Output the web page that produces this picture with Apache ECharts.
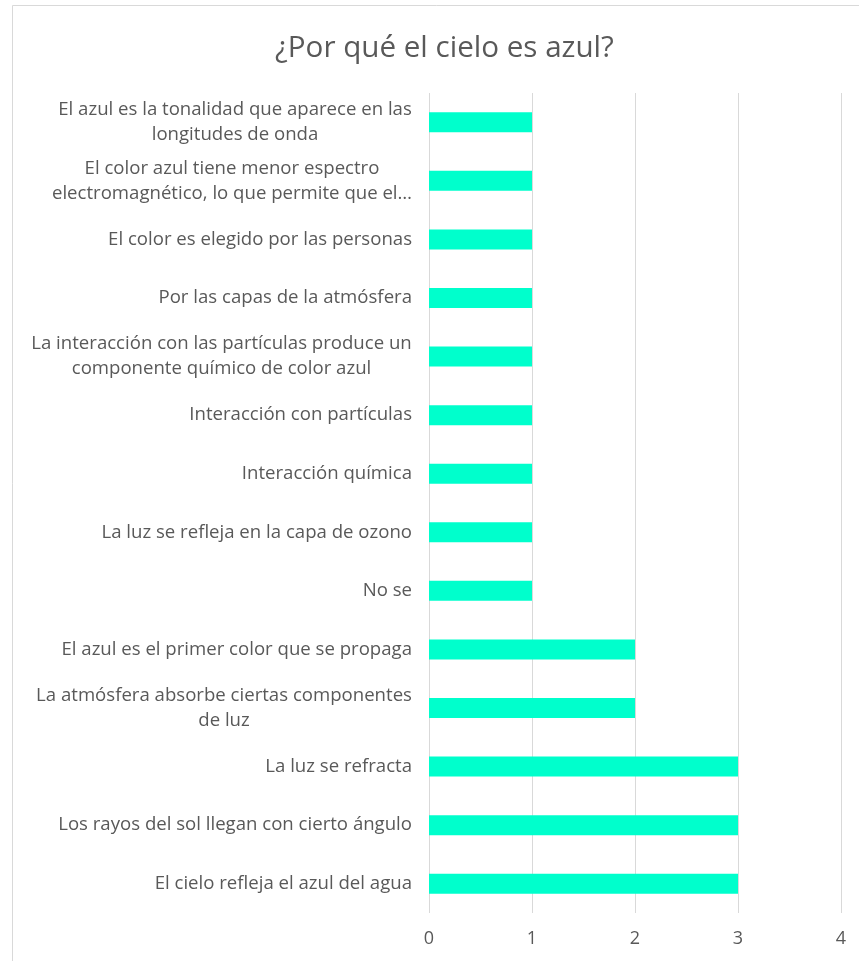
<!DOCTYPE html>
<html>
<head>
<meta charset="utf-8">
<script src="https://cdn.jsdelivr.net/npm/echarts@6/dist/echarts.min.js"></script>
<style>html,body{margin:0;padding:0;background:#fff;}#c{width:859px;height:961px;}</style>
</head>
<body>
<div id="c"></div>
<script>
const titleText = '¿Por qué el cielo es azul?';
const categories = [
  'El cielo refleja el azul del agua',
  'Los rayos del sol llegan con cierto ángulo',
  'La luz se refracta',
  'La atmósfera absorbe ciertas componentes\nde luz',
  'El azul es el primer color que se propaga',
  'No se',
  'La luz se refleja en la capa de ozono',
  'Interacción química',
  'Interacción con partículas',
  'La interacción con las partículas produce un\ncomponente químico de color azul',
  'Por las capas de la atmósfera',
  'El color es elegido por las personas',
  'El color azul tiene menor espectro\nelectromagnético, lo que permite que el…',
  'El azul es la tonalidad que aparece en las\nlongitudes de onda'
];
const values = [3, 3, 3, 2, 2, 1, 1, 1, 1, 1, 1, 1, 1, 1];
const xTicks = [0, 1, 2, 3, 4];

const FONT = 'Open Sans';
const LABEL_SIZE = 18.6;
const ctx = document.createElement('canvas').getContext('2d');
ctx.font = LABEL_SIZE + 'px "' + FONT + '"';
function blockWidth(s) {
  return Math.max.apply(null, s.split('\n').map(l => ctx.measureText(l).width));
}
// multi-line labels: lines centred within a block whose right edge sits at the axis
const yData = categories.map(c => {
  if (c.indexOf('\n') < 0) return c;
  const w = Math.round(blockWidth(c));
  return { value: c, textStyle: { align: 'center', padding: [0, w, 0, 0] } };
});

const chart = echarts.init(document.getElementById('c'));
chart.setOption({
  animation: false,
  backgroundColor: '#fff',
  title: {
    text: titleText, left: 270, top: 29,
    textStyle: { fontFamily: FONT, fontSize: 29.6, fontWeight: 'normal', color: '#595959' }
  },
  graphic: [{
    type: 'rect', shape: { x: 12.5, y: 5.5, width: 900, height: 970 },
    style: { fill: 'none', stroke: '#d9d9d9', lineWidth: 1 }, silent: true
  }],
  grid: { left: 429, right: 18, top: 93, bottom: 48, containLabel: false },
  xAxis: {
    type: 'value', min: xTicks[0], max: xTicks[xTicks.length - 1], interval: 1,
    axisLine: { show: false }, axisTick: { show: false },
    splitLine: { show: true, lineStyle: { color: '#d9d9d9', width: 1 } },
    axisLabel: { fontFamily: FONT, fontSize: 18, color: '#595959', margin: 17 }
  },
  yAxis: {
    type: 'category', data: yData,
    axisLine: { show: false }, axisTick: { show: false },
    axisLabel: {
      margin: 17, fontFamily: FONT, fontSize: LABEL_SIZE, color: '#595959', lineHeight: 25
    }
  },
  series: [{
    type: 'bar', data: values, barWidth: 20,
    itemStyle: { color: '#00FFCC' }
  }]
});
</script>
</body>
</html>
